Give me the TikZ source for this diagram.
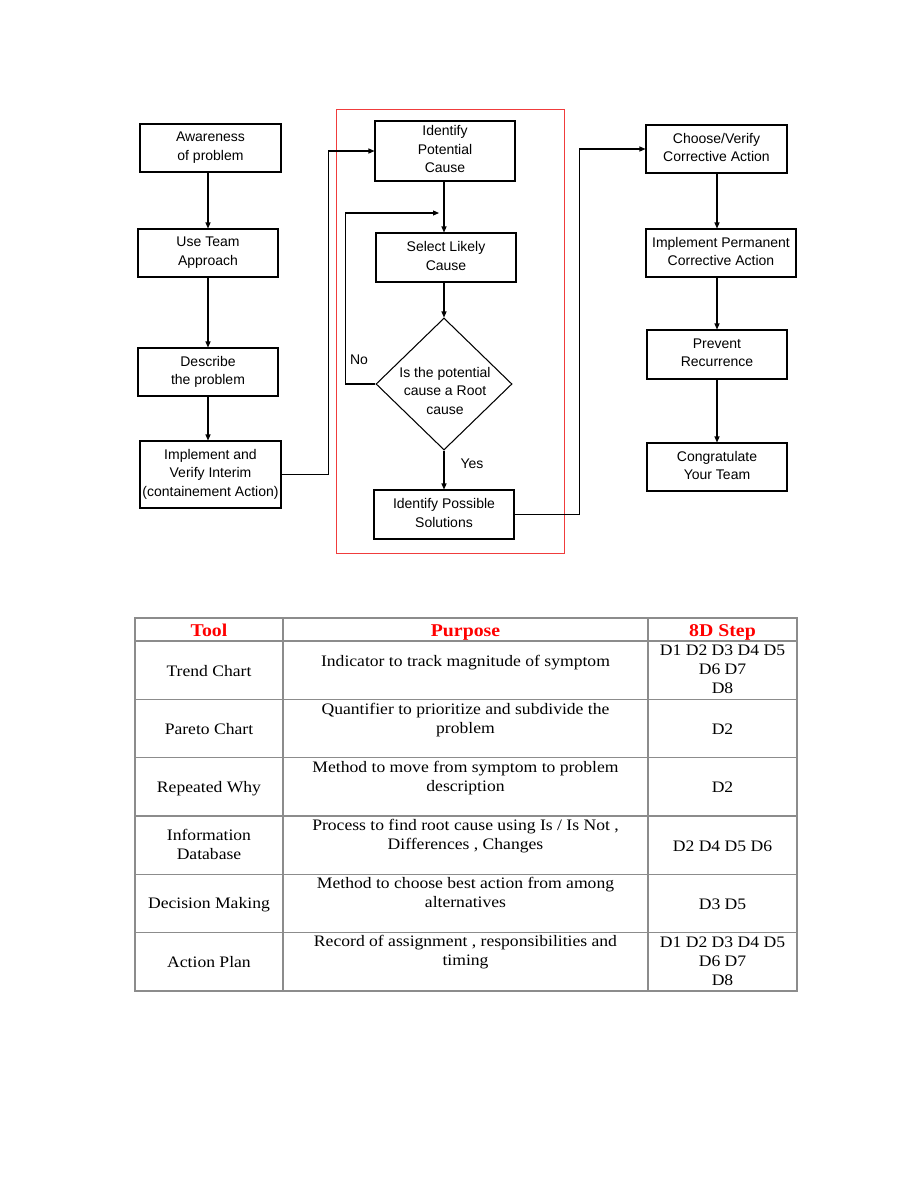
\documentclass[tikz,border=0pt]{standalone}
\usepackage{fontspec}
\usetikzlibrary{arrows.meta,shapes.geometric}
\newfontfamily\flowfont{Liberation Sans}
\newfontfamily\tabfont[FakeStretch=1.1]{Liberation Serif}
\definecolor{tabgray}{HTML}{8C8C8C}
\definecolor{redline}{HTML}{F03C3C}
\begin{document}
\begin{tikzpicture}[x=1pt,y=-1pt,
  ftext/.style={inner sep=0pt,align=center,font=\flowfont\fontsize{14}{18.5}\selectfont,
    execute at begin node=\strut,execute at end node=\strut},
  fbox/.style={draw,line width=1.05pt,inner sep=0pt},
  tx/.style={label={[ftext,yshift=-1pt]center:{#1}}},
  arr/.style={line width=1.05pt,-{Triangle[length=6pt,width=5pt]}},
  tcell/.style={inner sep=0pt,align=center,font=\tabfont\fontsize{16}{19}\selectfont,
    execute at begin node=\strut,execute at end node=\strut,yshift=-2pt},
  thead/.style={inner sep=0pt,font=\tabfont\bfseries\fontsize{18}{20}\selectfont,text=red,
    execute at begin node=\strut,yshift=-2pt},
  tline/.style={draw=tabgray,line width=1.3pt}]
\useasboundingbox[fill=white] (0,0) rectangle (920,1191);

% red frame
\draw[redline,line width=1pt] (336,109) rectangle (564,553);

% left column
\node[fbox,minimum width=141pt,minimum height=48pt,tx={Awareness\\of problem}] (aw) at (210.5,148) {};
\node[fbox,minimum width=140pt,minimum height=48pt,tx={Use Team\\Approach}] (team) at (208,253) {};
\node[fbox,minimum width=140pt,minimum height=48pt,tx={Describe\\the problem}] (desc) at (208,372) {};
\node[fbox,minimum width=141pt,minimum height=67pt,tx={Implement and\\Verify Interim\\(containement Action)}] (interim) at (210.5,474.5) {};

% middle column
\node[fbox,minimum width=140pt,minimum height=60pt,tx={Identify\\Potential\\Cause}] (ipc) at (445,151) {};
\node[fbox,minimum width=140pt,minimum height=49pt,tx={Select Likely\\Cause}] (slc) at (446,257.5) {};
\node[draw,line width=1.05pt,diamond,minimum width=136pt,minimum height=132pt,inner sep=0pt] (dia) at (444,384) {};
\node[ftext] (diat) at (445,393.5) {Is the potential\\cause a Root\\cause};
\node[fbox,minimum width=140pt,minimum height=49pt,tx={Identify Possible\\Solutions}] (ips) at (444,514.5) {};
\node[ftext] (no) at (359,361) {No};
\node[ftext] (yes) at (472,465) {Yes};
\coordinate (noend) at (439,213);

% right column
\node[fbox,minimum width=141pt,minimum height=48pt,tx={Choose/Verify\\Corrective Action}] (choose) at (716.5,149) {};
\node[fbox,minimum width=150pt,minimum height=48pt,tx={Implement Permanent\\Corrective Action}] (perm) at (721,253) {};
\node[fbox,minimum width=140pt,minimum height=49pt,tx={Prevent\\Recurrence}] (prev) at (717,354.5) {};
\node[fbox,minimum width=140pt,minimum height=48pt,tx={Congratulate\\Your Team}] (cong) at (717,467) {};

% connectors
\draw[arr] (aw.south -| team.north) -- (team.north);
\draw[arr] (team.south) -- (desc.north);
\draw[arr] (desc.south) -- (desc.south |- interim.north);
\draw[arr] (interim.east) -- ++(47,0) |- (ipc.west);
\draw[arr] (ipc.south -| dia.north) -- (slc.north -| dia.north);
\draw[arr] (slc.south -| dia.north) -- (dia.north);
\draw[arr] (dia.west) -- ++(-30,0) |- (noend);
\draw[arr] (dia.south) -- (dia.south |- ips.north);
\draw[arr] (ips.east) -- ++(65,0) |- (choose.west);
\draw[arr] (choose.south -| prev.north) -- (perm.north -| prev.north);
\draw[arr] (perm.south -| prev.north) -- (prev.north);
\draw[arr] (prev.south) -- (cong.north);

% table
\draw[tline] (135,618) rectangle (797,991);
\draw[tline] (283,618) -- (283,991);
\draw[tline] (648,618) -- (648,991);
\foreach \yy in {641,699.3,757.7,816,874.3,932.7} \draw[tline] (135,\yy) -- (797,\yy);

\node[thead] (h1) at (209,630) {Tool};
\node[thead] (h2) at (465.5,630) {Purpose};
\node[thead] (h3) at (722.5,630) {8D Step};

\node[tcell] (t1) at (209,671) {Trend Chart};
\node[tcell] (p1) at (465.5,661) {Indicator to track magnitude of symptom};
\node[tcell] (s1) at (722.5,670) {D1 D2 D3 D4 D5\\D6 D7\\D8};

\node[tcell] (t2) at (209,729) {Pareto Chart};
\node[tcell] (p2) at (465.5,719.5) {Quantifier to prioritize and subdivide the\\problem};
\node[tcell] (s2) at (722.5,729) {D2};

\node[tcell] (t3) at (209,787) {Repeated Why};
\node[tcell] (p3) at (465.5,777.5) {Method to move from symptom to problem\\description};
\node[tcell] (s3) at (722.5,787) {D2};

\node[tcell] (t4) at (209,845.5) {Information\\Database};
\node[tcell] (p4) at (465.5,835.5) {Process to find root cause using Is / Is Not ,\\Differences , Changes};
\node[tcell] (s4) at (722.5,846) {D2 D4 D5 D6};

\node[tcell] (t5) at (209,903) {Decision Making};
\node[tcell] (p5) at (465.5,893.5) {Method to choose best action from among\\alternatives};
\node[tcell] (s5) at (722.5,904) {D3 D5};

\node[tcell] (t6) at (209,962) {Action Plan};
\node[tcell] (p6) at (465.5,951.5) {Record of assignment , responsibilities and\\timing};
\node[tcell] (s6) at (722.5,962) {D1 D2 D3 D4 D5\\D6 D7\\D8};
\end{tikzpicture}
\end{document}
